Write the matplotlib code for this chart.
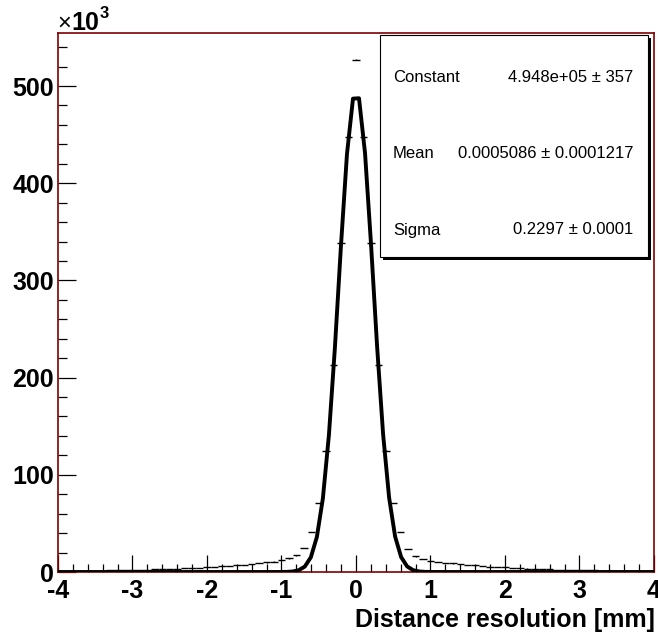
import numpy as np
import matplotlib.pyplot as plt
from matplotlib.patches import Rectangle

# histogram, bins 0.1 wide, contents in units of 1e3
bin_centers = np.round(np.arange(-40, 41) * 0.1, 2)
counts_left = [0.9, 0.95, 1.05, 1.15, 1.25, 1.35, 1.45, 1.6, 1.75, 1.9,
               2.1, 2.3, 2.5, 2.7, 2.9, 3.2, 3.5, 3.8, 4.1, 4.5,
               4.9, 5.3, 5.8, 6.3, 6.9, 7.5, 8.2, 9.0, 9.8, 10.8,
               12.0, 14.0, 17.0, 25.0, 41.0, 71.0, 125.0, 213.0, 338.0, 448.0]
count_peak = 527.0
counts_right = [448.0, 338.0, 213.0, 125.0, 71.0, 41.0, 24.0, 16.0, 13.5, 11.6,
                10.6, 9.6, 8.8, 8.0, 7.3, 6.7, 6.1, 5.6, 5.1, 4.7,
                4.3, 3.9, 3.6, 3.3, 3.0, 2.8, 2.5, 2.3, 2.1, 1.9,
                1.75, 1.6, 1.45, 1.35, 1.25, 1.15, 1.05, 0.95, 0.9, 0.85]
counts = np.array(counts_left + [count_peak] + counts_right)

# gaussian fit result
fit_const = 4.948e+05
fit_mean = 0.0005086
fit_sigma = 0.2297
stat_names = ["Constant", "Mean", "Sigma"]
stat_values = ["4.948e+05 \u00b1 357", "0.0005086 \u00b1 0.0001217", "0.2297 \u00b1 0.0001"]

plt.rcParams['font.family'] = ['Liberation Sans', 'DejaVu Sans']

W, H = 658, 634
fig = plt.figure(figsize=(W / 100, H / 100), dpi=100)
ax = fig.add_axes([58 / W, 1 - 572 / H, (654 - 58) / W, (572 - 33) / H])

frame_col = '#800000'
for s in ax.spines.values():
    s.set_color(frame_col)
    s.set_linewidth(1.2)

# histogram drawn as horizontal bars (errors tiny)
ax.errorbar(bin_centers, counts, xerr=0.05, yerr=np.sqrt(counts * 1e3) / 1e3,
            fmt='none', ecolor='black', elinewidth=1.0, capsize=0, zorder=3)

# fit curve
xf = np.linspace(-4, 4, 100)
yf = fit_const * np.exp(-0.5 * ((xf - fit_mean) / fit_sigma) ** 2) / 1e3
ax.plot(xf, yf, color='black', lw=2.8, zorder=4)

ax.set_xlim(-4, 4)
ax.set_ylim(0, (572 - 33) / 0.972)
ax.set_xticks(np.arange(-4, 5, 1))
ax.set_xticks(np.arange(-4, 4.01, 0.2), minor=True)
ax.set_yticks(np.arange(0, 501, 100))
ax.set_yticks(np.arange(0, 551, 20), minor=True)
ax.set_xticklabels(['-4', '-3', '-2', '-1', '0', '1', '2', '3', '4'])
ax.tick_params(axis='both', which='both', direction='in', colors='black',
               labelsize=18, width=0.9)
ax.tick_params(axis='x', which='major', length=12.3, pad=5)
ax.tick_params(axis='x', which='minor', length=6.1)
ax.tick_params(axis='y', which='major', length=13, pad=3)
ax.tick_params(axis='y', which='minor', length=6.5)
for lab in ax.get_xticklabels() + ax.get_yticklabels():
    lab.set_fontweight('bold')

# axis title and exponent
fig.text(655 / W, 1 - 620 / H, "Distance resolution [mm]", ha='right', va='center',
         fontsize=18, fontweight='bold')
fig.text(57 / W, 1 - 24 / H, "\u00d7", ha='left', va='center', fontsize=17)
fig.text(71 / W, 1 - 23 / H, "10", ha='left', va='center', fontsize=18, fontweight='bold')
fig.text(100 / W, 1 - 13 / H, "3", ha='left', va='center', fontsize=12, fontweight='bold')

# stats box with shadow
bx0, by0, bx1, by1 = 380, 35, 648, 257
fig.patches.append(Rectangle(((bx0 + 3) / W, 1 - (by1 + 3) / H), (bx1 - bx0) / W, (by1 - by0) / H,
                             transform=fig.transFigure, facecolor='black', edgecolor='black',
                             lw=0, zorder=5))
fig.patches.append(Rectangle((bx0 / W, 1 - by1 / H), (bx1 - bx0) / W, (by1 - by0) / H,
                             transform=fig.transFigure, facecolor='white', edgecolor='black',
                             lw=0.8, zorder=6))
rows_y = [77, 153, 230]
for name, val, yy in zip(stat_names, stat_values, rows_y):
    fig.text(393 / W, 1 - yy / H, name, ha='left', va='center', fontsize=12, zorder=7)
    fig.text(633 / W, 1 - yy / H, val, ha='right', va='center', fontsize=12, zorder=7)

fig.savefig('out.png', dpi=100)
